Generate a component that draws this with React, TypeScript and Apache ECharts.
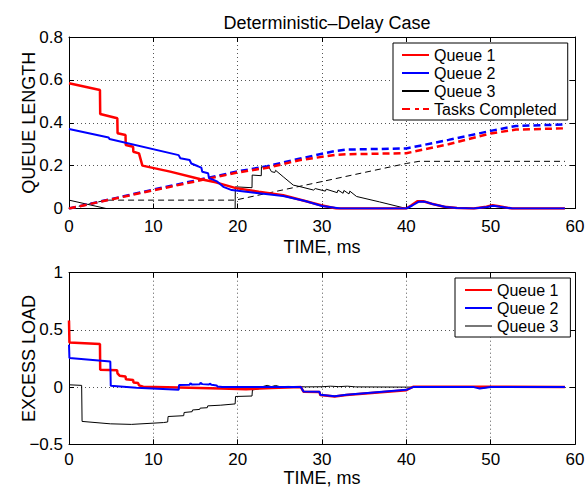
import React, { useEffect, useRef } from 'react';
import * as echarts from 'echarts';

const FONT = "'Liberation Sans', Arial, Helvetica, sans-serif";

const titleText = 'Deterministic–Delay Case';
const xName = 'TIME, ms';
const topYName = 'QUEUE LENGTH';
const bottomYName = 'EXCESS LOAD';
const topLegendNames = ['Queue 1', 'Queue 2', 'Queue 3', 'Tasks Completed'];
const bottomLegendNames = ['Queue 1', 'Queue 2', 'Queue 3'];

// Top panel: queue lengths
const queue1Length = [
  [0, 0.584], [3.67, 0.553], [3.7, 0.441], [5.73, 0.421], [5.76, 0.351], [6.7, 0.343], [6.73, 0.296],
  [7.6, 0.288], [7.63, 0.265], [8.3, 0.257], [8.7, 0.2], [12, 0.172], [15.5, 0.138], [17.4, 0.122],
  [19.8, 0.095], [22.5, 0.078], [25.4, 0.062], [28, 0.035], [29.9, 0.015], [31.7, 0], [40, 0],
  [40.6, 0.015], [41.3, 0.034], [42, 0.034], [43, 0.022], [44.5, 0.008], [46, 0.002], [48, 0],
  [49.5, 0.008], [50.2, 0.015], [51, 0.01], [52.5, 0], [58.8, 0],
];
const queue2Length = [
  [0, 0.371], [4.7, 0.331], [4.8, 0.324], [13.0, 0.249], [13.2, 0.234], [14.3, 0.226], [14.5, 0.21],
  [15.3, 0.197], [15.4, 0.195], [15.7, 0.19], [15.8, 0.171], [16.5, 0.164], [16.6, 0.142], [17.2, 0.132],
  [17.6, 0.125], [18.3, 0.101], [19.3, 0.086], [22, 0.074], [25.4, 0.058], [28, 0.035], [30, 0.012],
  [32.2, 0], [40, 0], [40.7, 0.014], [41.5, 0.032], [42.2, 0.032], [43.2, 0.02], [44.7, 0.007],
  [46, 0.002], [48, 0], [49.6, 0.007], [50.3, 0.013], [51.1, 0.008], [52.6, 0], [58.8, 0],
];
const queue3Length = [
  [0, 0.039], [4.4, 0], [19.7, 0], [19.72, 0.101], [21.7, 0.097], [21.72, 0.156], [22.8, 0.153],
  [22.82, 0.195], [23.5, 0.19], [23.6, 0.2], [24.0, 0.172], [24.4, 0.168], [24.5, 0.178], [25.4, 0.148],
  [26.6, 0.109], [27.5, 0.101], [29.0, 0.086], [29.2, 0.093], [30.4, 0.081], [30.5, 0.09], [31.8, 0.074],
  [31.9, 0.086], [32.5, 0.071], [32.6, 0.084], [33.2, 0.068], [33.3, 0.081], [34.1, 0.056], [36.8, 0.031],
  [40, 0], [58.8, 0],
];
const tasksCompleted1 = [
  [0, 0], [10, 0.085], [20, 0.168], [23.5, 0.19], [27.3, 0.225], [31.5, 0.25], [33, 0.253], [40, 0.258],
  [45, 0.3], [50, 0.35], [53, 0.368], [58.8, 0.374],
];
const tasksCompleted2 = [
  [0, 0], [10, 0.088], [20, 0.173], [23.5, 0.197], [27.3, 0.232], [31.5, 0.268], [33, 0.275], [40, 0.28],
  [45, 0.32], [50, 0.362], [53, 0.385], [58.8, 0.392],
];
const tasksCompleted3 = [
  [0, 0], [4.4, 0.039], [19.7, 0.039], [40, 0.21], [41.5, 0.22], [58.8, 0.22],
];

// Bottom panel: excess load
const excess1 = [
  [0, 0.583], [0.05, 0.39], [3.67, 0.376], [3.7, 0.151], [5.7, 0.147], [5.75, 0.12], [6.0, 0.1],
  [6.7, 0.093], [6.75, 0.068], [7.6, 0.062], [7.65, 0.04], [8.2, 0.035], [8.3, 0.015], [8.8, 0.003],
  [13, -0.003], [18, -0.012], [21, -0.018], [24, -0.008], [27.5, 0.0], [27.8, -0.04], [29.7, -0.043],
  [29.8, -0.07], [31.5, -0.083], [32.9, -0.07], [40, -0.027], [40.8, 0.003], [45, 0.002], [50, 0.003],
  [58.8, 0],
];
const excess2 = [
  [0, 0.37], [0.05, 0.254], [4.9, 0.224], [4.95, 0.011], [8, -0.005], [13.0, -0.024], [13.05, 0.018],
  [14.3, 0.02], [14.4, 0.033], [14.6, 0.022], [15.5, 0.025], [15.6, 0.037], [15.8, 0.026], [16.6, 0.022],
  [16.7, 0.03], [16.9, 0.02], [17.5, 0.015], [17.6, 0.005], [18.2, 0.0], [22, 0.0], [27.5, 0.0],
  [27.8, -0.038], [29.7, -0.04], [29.8, -0.067], [31.5, -0.08], [32.9, -0.067], [40, -0.024],
  [40.8, 0.0], [48, 0.0], [48.7, -0.012], [50, 0.0], [58.8, 0],
];
const excess3 = [
  [0, 0.02], [1.5, 0.015], [1.55, -0.3], [4.9, -0.321], [7.4, -0.326], [11.2, -0.31], [11.7, -0.305],
  [11.75, -0.257], [13.6, -0.25], [13.65, -0.222], [14.6, -0.215], [14.65, -0.2], [15.5, -0.195],
  [15.55, -0.184], [16.4, -0.18], [16.45, -0.164], [18, -0.158], [19.7, -0.147], [19.75, -0.082],
  [21.7, -0.078], [21.75, -0.025], [22.5, -0.015], [23, 0.005], [23.5, 0.015], [24, 0.004], [24.5, 0.014],
  [25, 0.004], [26, 0.006], [28, 0.002], [30, 0.003], [31, 0.008], [32, 0.004], [33, 0.008], [34, 0.002],
  [40, 0], [48, 0], [49, -0.01], [50, 0], [58.8, 0],
];

const RED = '#ff0000';
const BLUE = '#0000ff';
const BLACK = '#000000';

const axisLine = { show: true, onZero: false, lineStyle: { color: '#000', width: 1 } };
const axisTick = { show: true, inside: true, length: 5, lineStyle: { color: '#000', width: 1 } };
const splitLine = { show: true, lineStyle: { color: '#555', type: [1, 3], width: 1 } };
const labelStyle = { fontSize: 17, color: '#000', fontFamily: FONT };
const nameStyle = { fontSize: 18, color: '#000', fontFamily: FONT };
const minusFmt = (v: number) => (v < 0 ? '−' + String(Math.abs(v)) : String(v));

function xAxes(gridIndex: number, labelMargin: number, nameGap: number) {
  return [
    {
      gridIndex, type: 'value', min: 0, max: 60, interval: 10, position: 'bottom',
      name: xName, nameLocation: 'middle', nameGap, nameMoveOverlap: false, nameTextStyle: nameStyle,
      axisLine, axisTick, splitLine, axisLabel: { ...labelStyle, margin: labelMargin },
    },
    {
      gridIndex, type: 'value', min: 0, max: 60, interval: 10, position: 'top',
      axisLine, axisTick, splitLine: { show: false }, axisLabel: { show: false },
    },
  ];
}
function yAxes(gridIndex: number, min: number, max: number, interval: number, name: string) {
  return [
    {
      gridIndex, type: 'value', min, max, interval, position: 'left',
      name, nameLocation: 'middle', nameGap: 31, nameMoveOverlap: false,
      nameTextStyle: { ...nameStyle, fontSize: 18 },
      axisLine, axisTick, splitLine, axisLabel: { ...labelStyle, margin: 6, formatter: minusFmt },
    },
    {
      gridIndex, type: 'value', min, max, interval, position: 'right',
      axisLine, axisTick, splitLine: { show: false }, axisLabel: { show: false },
    },
  ];
}

function line(name: string, data: number[][], color: string, width: number, xi: number, yi: number, dash?: any) {
  return {
    name, type: 'line', data, xAxisIndex: xi, yAxisIndex: yi, symbol: 'none', showSymbol: false,
    lineStyle: { color, width, type: dash || 'solid' }, itemStyle: { color }, silent: true,
  };
}

const legendCommon = {
  orient: 'vertical', itemWidth: 27, itemHeight: 14, itemGap: 2,
  borderColor: '#000', borderWidth: 1, backgroundColor: '#fff', borderRadius: 0,
  textStyle: { fontSize: 16, color: '#000', fontFamily: FONT, lineHeight: 16 },
  itemStyle: { opacity: 0, borderWidth: 0 }, selectedMode: false,
};

const option: any = {
  animation: false,
  backgroundColor: '#fff',
  title: {
    text: titleText, left: 322, top: 9, textAlign: 'center',
    textStyle: { fontSize: 18, fontWeight: 'normal', color: '#000', fontFamily: FONT },
  },
  grid: [
    { left: 69, right: 11, top: 37, height: 171.5, outerBoundsMode: 'none', containLabel: false },
    { left: 69, right: 11, top: 272.7, height: 171.6, outerBoundsMode: 'none', containLabel: false },
  ],
  xAxis: [...xAxes(0, 9, 29), ...xAxes(1, 7, 25)],
  yAxis: [...yAxes(0, 0, 0.8, 0.2, topYName), ...yAxes(1, -0.5, 1, 0.5, bottomYName)],
  legend: [
    {
      ...legendCommon, left: 393, top: 43, padding: [4, 11, 3, 8],
      data: topLegendNames.map((n) =>
        n === 'Tasks Completed' ? { name: n, lineStyle: { type: [8, 5, 4, 4] } } : { name: n }
      ),
    },
    {
      ...legendCommon, left: 455, top: 278, padding: [4, 12, 3, 9],
      data: bottomLegendNames.map((n) =>
        n === 'Queue 3' ? { name: n, lineStyle: { color: '#777', width: 2 } } : { name: n }
      ),
    },
  ],
  series: [
    line('Queue 3', queue3Length, BLACK, 1, 0, 0),
    line('Queue 3 Tasks', tasksCompleted3, BLACK, 1, 0, 0, [6, 4]),
    line('Queue 2 Tasks', tasksCompleted2, BLUE, 2.5, 0, 0, [7, 4]),
    line('Tasks Completed', tasksCompleted1, RED, 2.5, 0, 0, [7, 4]),
    line('Queue 1', queue1Length, RED, 2.5, 0, 0),
    line('Queue 2', queue2Length, BLUE, 2, 0, 0),
    line('Queue 3', excess3, BLACK, 1, 2, 2),
    line('Queue 1', excess1, RED, 2.5, 2, 2),
    line('Queue 2', excess2, BLUE, 2, 2, 2),
  ],
};

export default function App() {
  const ref = useRef<HTMLDivElement>(null);
  useEffect(() => {
    document.body.style.margin = '0';
    const chart = echarts.init(ref.current as HTMLDivElement, null, { renderer: 'svg' });
    chart.setOption(option);
    return () => chart.dispose();
  }, []);
  return <div ref={ref} style={{ width: 586, height: 487 }} />;
}
